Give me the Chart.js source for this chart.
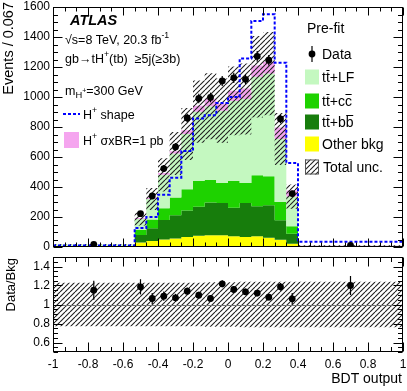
<!DOCTYPE html>
<html>
<head>
<meta charset="utf-8">
<script src="https://cdn.jsdelivr.net/npm/chart.js@4.4.1/dist/chart.umd.min.js"></script>
<style>
  html, body { margin: 0; padding: 0; background: #fff; }
  #wrap { position: relative; width: 407px; height: 391px; }
  canvas { position: absolute; left: 0; }
  #main { top: 0; }
  #ratio { top: 252px; }
</style>
</head>
<body>
<div id="wrap">
  <canvas id="main" width="407" height="252"></canvas>
  <canvas id="ratio" width="407" height="139"></canvas>
</div>
<script>
// ---- dados (eventos / 0.067) ----
const binEdges = [-1, -0.5333, -0.4667, -0.4, -0.3333, -0.2667, -0.2, -0.1333, -0.0667, 0,
                  0.0667, 0.1333, 0.2, 0.2667, 0.3333, 0.4, 1];
const binCenters = [-0.767, -0.5, -0.433, -0.367, -0.3, -0.233, -0.167, -0.1, -0.033, 0.033,
                    0.1, 0.167, 0.233, 0.3, 0.367, 0.7];

const otherBkg    = [1, 30, 40, 50, 56, 67, 75, 78, 78, 71, 67, 71, 62, 49, 22, 1];
const ttbb        = [3, 50, 85, 130, 155, 177, 194, 218, 216, 191, 226, 200, 216, 129, 67, 2];
const ttcc        = [3, 35, 58, 79, 119, 141, 173, 150, 133, 178, 134, 207, 193, 122, 49, 2];
const ttLF        = [9, 72, 137, 222, 293, 369, 460, 492, 482, 534, 560, 657, 685, 420, 198, 4];
const hplusSignal = [0.5, 6, 8, 12, 16, 24, 40, 50, 47, 68, 70, 75, 78, 77, 40, 0.5];
const hplusShape  = [10, 127, 200, 349, 462, 640, 856, 878, 960, 1000, 1256, 1507, 1551, 1229, 560, 35];
const totalUnc    = [0.23, 0.23, 0.23, 0.23, 0.23, 0.23, 0.23, 0.235, 0.235, 0.235, 0.24, 0.24, 0.24, 0.24, 0.24, 0.24];

const dataEvents  = [18, 222, 340, 523, 667, 860, 990, 997, 1107, 1128, 1118, 1271, 1245, 854, 356, 11];
const dataErr     = [1.6, 15, 18, 23, 26, 29, 31, 32, 33, 34, 33, 36, 35, 29, 19, 1.3];

const ratioValues = [1.15, 1.186, 1.063, 1.088, 1.07, 1.14, 1.098, 1.063, 1.218, 1.158, 1.133, 1.12,
                     1.077, 1.186, 1.06, 1.2];
const ratioErr    = [0.1, 0.08, 0.058, 0.048, 0.042, 0.04, 0.036, 0.035, 0.036, 0.035, 0.034, 0.032,
                     0.032, 0.04, 0.06, 0.1];

const mainYTicks  = [0, 200, 400, 600, 800, 1000, 1200, 1400, 1600];
const ratioYTicks = [0.6, 0.8, 1, 1.2, 1.4];
const xTicks      = [-1, -0.8, -0.6, -0.4, -0.2, 0, 0.2, 0.4, 0.6, 0.8, 1];

const FONT = '"Liberation Sans", Arial, Helvetica, sans-serif';
const COLORS = {
  other: '#ffff00',
  bb: '#177d0c',
  cc: '#1ed200',
  lf: '#c4f8c0',
  sig: '#f5a5ef',
  shape: '#0000ff'
};

// padrão hachurado (Total unc.)
function criarHachura(ctx) {
  const c = document.createElement('canvas');
  c.width = 5; c.height = 5;
  const g = c.getContext('2d');
  g.strokeStyle = '#1e1e1e';
  g.lineWidth = 1.1;
  [-5, 0, 5].forEach(o => {
    g.beginPath(); g.moveTo(o, 5); g.lineTo(o + 5, 0); g.stroke();
  });
  return ctx.createPattern(c, 'repeat');
}

// histograma -> pontos para linha em degraus
function histPoints(values) {
  const pts = values.map((v, i) => ({ x: binEdges[i], y: v }));
  pts.push({ x: binEdges[binEdges.length - 1], y: values[values.length - 1] });
  return pts;
}

function somar(...arrs) {
  return arrs[0].map((_, i) => arrs.reduce((s, a) => s + a[i], 0));
}

// texto com sobrescrito / subscrito / barra
function drawRich(ctx, x, yMid, size, parts, weight) {
  const base = yMid + size * 0.36;
  let cx = x;
  parts.forEach(p => {
    const t = p[0], st = p[1] || '', over = p[2];
    let fs = size, dy = 0;
    if (st === 'sup') { fs = size * 0.7; dy = -size * 0.42; }
    else if (st === 'sub') { fs = size * 0.75; dy = size * 0.28; }
    else if (st === 'subsup') { fs = size * 0.55; dy = -size * 0.12; }
    ctx.font = `${weight || ''} ${fs}px ${FONT}`;
    ctx.fillText(t, cx, base + dy);
    const w = ctx.measureText(t).width;
    if (over) {
      const yo = Math.round(base + dy - fs * 0.84) + 0.5;
      ctx.beginPath();
      ctx.moveTo(cx + 0.5, yo); ctx.lineTo(cx + w - 0.3, yo);
      ctx.lineWidth = 1; ctx.stroke();
    }
    cx += w;
  });
}

function line(ctx, x1, y1, x2, y2) {
  ctx.beginPath(); ctx.moveTo(x1, y1); ctx.lineTo(x2, y2); ctx.stroke();
}

// moldura estilo ROOT com marcas para dentro
const rootFrame = {
  id: 'rootFrame',
  afterDatasetsDraw(chart, args, opts) {
    const { ctx, chartArea: a, scales } = chart;
    const L = Math.round(a.left) + 0.5, R = Math.round(a.right) - 0.5;
    const T = Math.round(a.top) + 0.5, B = Math.round(a.bottom) - 0.5;
    ctx.save();
    ctx.strokeStyle = '#000';
    ctx.lineWidth = 1;
    if (opts.refLine !== undefined) {
      ctx.strokeStyle = '#777';
      const yr = Math.round(scales.y.getPixelForValue(opts.refLine)) + 0.5;
      line(ctx, L, yr, R, yr);
      ctx.strokeStyle = '#000';
    }
    const xs = scales.x, ys = scales.y;
    for (let k = 0; ; k++) {
      const v = xs.min + k * opts.xMinor;
      if (v > xs.max + 1e-6) break;
      const q = v / opts.xMajor;
      const len = Math.abs(q - Math.round(q)) < 1e-3 ? opts.xMajLen : opts.xMinLen;
      const px = Math.round(xs.getPixelForValue(v)) + 0.5;
      line(ctx, px, B, px, B - len);
      line(ctx, px, T, px, T + len);
    }
    for (let k = 0; ; k++) {
      const v = ys.min + k * opts.yMinor;
      if (v > ys.max + 1e-6) break;
      const q = v / opts.yMajor;
      const len = Math.abs(q - Math.round(q)) < 1e-3 ? opts.yMajLen : opts.yMinLen;
      const py = Math.round(ys.getPixelForValue(v)) + 0.5;
      line(ctx, L, py, L + len, py);
      line(ctx, R, py, R - len, py);
    }
    ctx.strokeRect(L, T, R - L, B - T);
    ctx.restore();
  }
};

// barras de erro dos dados
const errorBars = {
  id: 'errorBars',
  afterDatasetsDraw(chart) {
    const { ctx, scales } = chart;
    ctx.save();
    ctx.strokeStyle = '#000';
    ctx.lineWidth = 1.2;
    chart.data.datasets.forEach(ds => {
      if (!ds.errors) return;
      ds.data.forEach((p, j) => {
        const x = scales.x.getPixelForValue(p.x);
        line(ctx, x, scales.y.getPixelForValue(p.y - ds.errors[j]), x, scales.y.getPixelForValue(p.y + ds.errors[j]));
      });
    });
    ctx.restore();
  }
};

const mainCtx = document.getElementById('main').getContext('2d');
const hatch = criarHachura(mainCtx);

// textos e legendas do painel principal
const anotacoes = {
  id: 'anotacoes',
  afterDraw(chart) {
    const ctx = chart.ctx;
    ctx.save();
    ctx.fillStyle = '#000';
    ctx.strokeStyle = '#000';
    ctx.textAlign = 'left';
    ctx.textBaseline = 'alphabetic';

    drawRich(ctx, 70, 19.5, 14.5, [['ATLAS']], 'italic bold');
    drawRich(ctx, 65, 39, 12.5, [['\u221As=8 TeV, 20.3 fb'], ['-1', 'sup']]);
    drawRich(ctx, 65, 58, 12.5, [['gb\u2192tH'], ['+', 'sup'], ['(tb)  \u22655j(\u22653b)']]);
    drawRich(ctx, 65, 90, 12.5, [['m'], ['H', 'sub'], ['+', 'subsup'], ['=300 GeV']]);

    // H+ shape
    ctx.save();
    ctx.strokeStyle = COLORS.shape; ctx.lineWidth = 2; ctx.setLineDash([3, 2]);
    line(ctx, 63, 114, 80, 114);
    ctx.restore();
    drawRich(ctx, 83, 114, 12.5, [['H'], ['+', 'sup'], [' shape']]);

    // H+ sigma x BR
    ctx.fillStyle = COLORS.sig;
    ctx.fillRect(64, 132, 15, 16);
    ctx.fillStyle = '#000';
    drawRich(ctx, 83, 140, 12.5, [['H'], ['+', 'sup'], [' \u03C3xBR=1 pb']]);

    // legenda direita
    const lx = 305, tx = 322, fs = 14;
    drawRich(ctx, 307, 28, fs, [['Pre-fit']]);

    ctx.beginPath(); ctx.arc(312, 54, 3.4, 0, Math.PI * 2); ctx.fill();
    ctx.lineWidth = 1.2;
    line(ctx, 312, 46, 312, 62);
    drawRich(ctx, tx, 54, fs, [['Data']]);

    const caixas = [
      { y: 77, c: COLORS.lf, parts: [['t'], ['t', '', true], ['+LF']] },
      { y: 101, c: COLORS.cc, parts: [['t'], ['t', '', true], ['+c'], ['c', '', true]] },
      { y: 122, c: COLORS.bb, parts: [['t'], ['t', '', true], ['+b'], ['b', '', true]] },
      { y: 144, c: COLORS.other, parts: [['Other bkg']] }
    ];
    caixas.forEach(it => {
      ctx.fillStyle = it.c;
      ctx.fillRect(lx, it.y - 7.5, 14, 15);
      ctx.fillStyle = '#000';
      drawRich(ctx, tx, it.y, fs, it.parts);
    });
    ctx.fillStyle = '#fff';
    ctx.fillRect(lx, 159.5, 14, 15);
    ctx.fillStyle = hatch;
    ctx.fillRect(lx, 159.5, 14, 15);
    ctx.strokeStyle = '#555'; ctx.lineWidth = 1;
    ctx.strokeRect(lx + 0.5, 160, 13, 14);
    ctx.fillStyle = '#000';
    drawRich(ctx, tx + 1, 167, fs, [['Total unc.']]);

    // título do eixo y
    ctx.save();
    ctx.translate(9, 2);
    ctx.rotate(-Math.PI / 2);
    ctx.textAlign = 'right';
    ctx.textBaseline = 'middle';
    ctx.font = `14.5px ${FONT}`;
    ctx.fillText('Events / 0.067', 0, 0);
    ctx.restore();
    ctx.restore();
  }
};

const topOther = otherBkg;
const topBB = somar(otherBkg, ttbb);
const topCC = somar(otherBkg, ttbb, ttcc);
const topLF = somar(otherBkg, ttbb, ttcc, ttLF);
const topSig = somar(otherBkg, ttbb, ttcc, ttLF, hplusSignal);
const uncLow = topLF.map((v, i) => v * (1 - totalUnc[i]));
const uncHigh = topLF.map((v, i) => v * (1 + totalUnc[i]));

function camada(values, color, fill, order) {
  return {
    data: histPoints(values), stepped: true, fill, order,
    backgroundColor: color, borderColor: 'rgba(0,0,0,0)', borderWidth: 1, pointRadius: 0
  };
}

const tickFont = { size: 12, family: FONT };

// eixo y com largura fixa e sem margem extra para os rótulos
function ajustarEixoY(s) {
  s.width = 53;
  s.paddingTop = 0;
  s.paddingBottom = 0;
}

new Chart(mainCtx, {
  type: 'line',
  data: {
    datasets: [
      camada(topOther, COLORS.other, 'origin', 9),
      camada(topBB, COLORS.bb, '-1', 8),
      camada(topCC, COLORS.cc, '-1', 7),
      camada(topLF, COLORS.lf, '-1', 6),
      camada(topSig, COLORS.sig, '-1', 5),
      camada(uncLow, 'rgba(0,0,0,0)', false, 4),
      camada(uncHigh, hatch, '-1', 3),
      {
        data: histPoints(hplusShape), stepped: true, fill: false, order: 2,
        borderColor: COLORS.shape, borderWidth: 2, borderDash: [3, 2], pointRadius: 0
      },
      {
        data: binCenters.map((x, i) => ({ x, y: dataEvents[i] })), errors: dataErr,
        showLine: false, order: 1, pointRadius: 3.4, pointBackgroundColor: '#000',
        pointBorderColor: '#000', pointBorderWidth: 0
      }
    ]
  },
  options: {
    responsive: false,
    animation: false,
    events: [],
    layout: { padding: { top: 7, right: 4, bottom: 5, left: 0 } },
    plugins: {
      legend: { display: false },
      tooltip: { enabled: false },
      rootFrame: { xMajor: 0.2, xMinor: 1 / 15, xMajLen: 8, xMinLen: 4,
                   yMajor: 200, yMinor: 50, yMajLen: 9, yMinLen: 4.5 }
    },
    scales: {
      x: { type: 'linear', min: -1, max: 1, display: false },
      y: {
        min: 0, max: 1600,
        afterBuildTicks: s => { s.ticks = mainYTicks.map(v => ({ value: v })); },
        afterFit: ajustarEixoY,
        grid: { display: false, drawTicks: false },
        border: { display: false },
        ticks: { color: '#000', font: tickFont, padding: 3, callback: v => String(v) }
      }
    }
  },
  plugins: [rootFrame, errorBars, anotacoes]
});

// painel da razão
const textosRazao = {
  id: 'textosRazao',
  afterDraw(chart) {
    const ctx = chart.ctx;
    ctx.save();
    ctx.fillStyle = '#000';
    ctx.font = `13px ${FONT}`;
    ctx.textBaseline = 'middle';
    ctx.save();
    ctx.translate(11, 6);
    ctx.rotate(-Math.PI / 2);
    ctx.textAlign = 'right';
    ctx.fillText('Data/Bkg', 0, 0);
    ctx.restore();
    ctx.font = `14px ${FONT}`;
    ctx.textAlign = 'right';
    ctx.fillText('BDT output', 402, 127);
    ctx.restore();
  }
};

const ratioCtx = document.getElementById('ratio').getContext('2d');
const hatchR = criarHachura(ratioCtx);

new Chart(ratioCtx, {
  type: 'line',
  data: {
    datasets: [
      camada(totalUnc.map(u => 1 - u), 'rgba(0,0,0,0)', false, 4),
      camada(totalUnc.map(u => 1 + u), hatchR, '-1', 3),
      {
        data: binCenters.map((x, i) => ({ x, y: ratioValues[i] })), errors: ratioErr,
        showLine: false, order: 1, pointRadius: 3.4, pointBackgroundColor: '#000',
        pointBorderColor: '#000', pointBorderWidth: 0
      }
    ]
  },
  options: {
    responsive: false,
    animation: false,
    events: [],
    layout: { padding: { top: 5, right: 4, bottom: 0, left: 0 } },
    plugins: {
      legend: { display: false },
      tooltip: { enabled: false },
      rootFrame: { refLine: 1, xMajor: 0.2, xMinor: 1 / 15, xMajLen: 9, xMinLen: 4.5,
                   yMajor: 0.2, yMinor: 0.05, yMajLen: 9, yMinLen: 4.5 }
    },
    scales: {
      x: {
        type: 'linear', min: -1, max: 1,
        afterBuildTicks: s => { s.ticks = xTicks.map(v => ({ value: v })); },
        afterFit: s => { s.height = 39; s.paddingLeft = 0; s.paddingRight = 0; },
        grid: { display: false, drawTicks: false },
        border: { display: false },
        ticks: { color: '#000', font: tickFont, padding: 5, maxRotation: 0, autoSkip: false,
                 callback: v => String(+v.toFixed(1)) }
      },
      y: {
        min: 0.5, max: 1.5,
        afterBuildTicks: s => { s.ticks = ratioYTicks.map(v => ({ value: v })); },
        afterFit: ajustarEixoY,
        grid: { display: false, drawTicks: false },
        border: { display: false },
        ticks: { color: '#000', font: tickFont, padding: 3, callback: v => String(+v.toFixed(1)) }
      }
    }
  },
  plugins: [rootFrame, errorBars, textosRazao]
});
</script>
</body>
</html>
